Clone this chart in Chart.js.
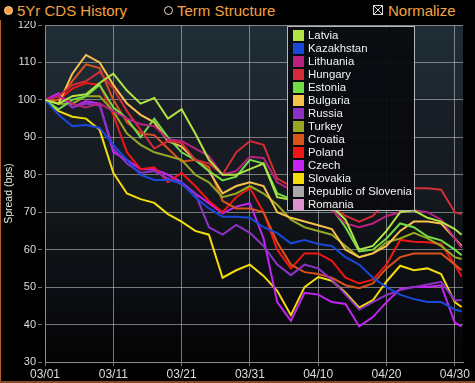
<!DOCTYPE html>
<html>
<head>
<meta charset="utf-8">
<script src="https://cdn.jsdelivr.net/npm/chart.js@4.4.1/dist/chart.umd.min.js"></script>
<style>
  html, body { margin: 0; padding: 0; background: #000; }
  body { width: 475px; height: 383px; position: relative; overflow: hidden; font-family: "Liberation Sans", Arial, sans-serif; }
  #wrap { position: absolute; left: 0; top: 0; width: 475px; height: 383px; }
  #header { position: absolute; left: 0; top: 0; width: 475px; height: 21px; background: #000; color: #f4a044; font-size: 15px; }
  #header span { position: absolute; top: 2px; white-space: nowrap; }
  .radio { position: absolute; width: 7px; height: 7px; border-radius: 50%; top: 6px; }
  #legend { position: absolute; left: 287px; top: 26px; width: 128px; height: 185px; background: rgba(8,11,14,0.94); border: 1px solid #b8b8b8; box-sizing: border-box; }
  .item { position: absolute; left: 5px; height: 13px; color: #f2f2f2; font-size: 11.4px; line-height: 13px; white-space: nowrap; }
  .item i { position: absolute; left: 0; top: 1px; width: 11px; height: 11px; }
  .item b { position: absolute; left: 15px; top: 0; font-weight: normal; }
  #edgeL { position: absolute; left: 0; top: 20px; width: 1px; height: 363px; background: #b0602a; }
  #edgeB { position: absolute; left: 0; top: 381px; width: 475px; height: 2px; background: #8a4a22; }
</style>
</head>
<body>
<div id="wrap"><canvas id="cds" width="475" height="383"></canvas></div>
<div id="header">
  <div class="radio" style="left:4px;background:#f4a044;border:1px solid #ffd090;"></div>
  <span style="left:17px;">5Yr CDS History</span>
  <div class="radio" style="left:164px;border:1px solid #f0e0c0;"></div>
  <span style="left:177px;">Term Structure</span>
  <div style="position:absolute;left:373px;top:5px;width:10px;height:10px;border:1px solid #d8d8d8;box-sizing:border-box;overflow:hidden;">
    <svg width="10" height="10" style="position:absolute;left:-1px;top:-1px"><path d="M1 1L9 9M9 1L1 9" stroke="#d8d8d8" stroke-width="1"/></svg>
  </div>
  <span style="left:388px;">Normalize</span>
</div>
<div id="legend"></div>
<div id="edgeL"></div>
<div id="edgeB"></div>
<script>
const days = [0, 2, 4, 6, 8, 10, 12, 14, 16, 18, 20, 22, 24, 26, 28, 30, 32, 34, 36, 38, 40, 42, 44, 46, 48, 50, 52, 54, 56, 58, 60, 61];
const tickLabels = ['03/01', '03/11', '03/21', '03/31', '04/10', '04/20', '04/30'];

const countries = ['Latvia', 'Kazakhstan', 'Lithuania', 'Hungary', 'Estonia', 'Bulgaria', 'Russia', 'Turkey',
  'Croatia', 'Poland', 'Czech', 'Slovakia', 'Republic of Slovenia', 'Romania'];
const colors = ['#b0e444', '#1a48d8', '#b8227e', '#d42c38', '#74dc46', '#f6c24c', '#8c32c4', '#98a622',
  '#d8521a', '#f01616', '#c424f4', '#f4dc0c', '#a8a8a8', '#dc92cc'];

const latvia     = [100, 99, 101, 101.5, 104.5, 107, 102.5, 99, 100.5, 95, 97.5, 91, 84, 80, 80, 81.5, 83, 74, 73.3, 72.5, 72, 71.5, 68, 60, 61, 65, 70, 70.5, 68.5, 67.5, 65.5, 64];
const kazakhstan = [100, 96, 93, 93.3, 92.5, 88, 84, 80, 78.6, 78.6, 77.8, 74, 71, 68.8, 68.8, 68.5, 66, 64.4, 61.7, 62.6, 61.5, 61, 58, 56, 52.5, 50, 48, 46.8, 46, 46, 44, 43.5];
const lithuania  = [100, 101, 99, 98, 99, 97, 95, 93.5, 93, 89.5, 89, 87, 85, 80, 81, 84.8, 84.5, 78, 76, 74, 72, 70.5, 67, 66, 67, 69, 70, 70.5, 70, 68, 63, 60.5];
const hungary    = [100, 101, 104, 105, 107.5, 103, 97, 92, 87, 89, 88.5, 84, 83, 80, 86, 89, 88, 79, 77, 75, 72.5, 71.5, 69, 67.5, 69, 73, 76, 76.4, 76.4, 76, 70, 69.5];
const estonia    = [100, 97.5, 100, 101, 104, 98, 95, 90, 95, 90, 86, 84, 81, 78.5, 79.5, 84, 83, 75, 73.5, 72.5, 71.5, 71, 66, 59.5, 60, 63, 67, 66, 63.5, 62.5, 60, 58.5];
const bulgaria   = [100, 99, 107, 112, 110, 104, 99, 96, 94, 89, 87.5, 84, 81, 75, 77, 78, 77, 70, 68.5, 67.5, 66.5, 65.5, 60, 58, 59, 61, 65, 67.5, 67.5, 67, 63, 61];
const russia     = [100, 101, 98, 99, 98.5, 87, 83, 80.5, 81, 79, 77.5, 75, 66, 64, 66.6, 64.5, 61, 56, 53.2, 56, 55, 52, 48, 44, 46, 47.9, 49.2, 50, 50.7, 51.4, 46.5, 46.5];
const turkey     = [100, 99, 99, 101, 101, 97, 91, 88, 86, 85, 84, 80, 78, 74, 75, 77, 75, 72, 68, 66, 65, 64, 61, 58, 59, 62, 63, 64.5, 63, 61, 58, 57.5];
const croatia    = [100, 100, 105, 109.5, 108.5, 100, 94, 91, 90.6, 87, 83.5, 84, 82, 73, 71, 71, 70, 62, 56, 54, 53.5, 52.5, 50.5, 49.7, 51, 55, 58, 59, 59, 59, 56, 54.5];
const poland     = [100, 100, 103, 104.5, 104, 96, 86, 81.5, 82, 78, 80.5, 77, 73, 70, 74, 76.5, 70, 60, 55, 59, 59, 57, 52.5, 51, 52, 56, 62.6, 62.1, 62, 61.5, 56, 52.8];
const czech      = [100, 101.8, 98, 99.6, 99, 86, 84, 81.5, 81.5, 80, 78, 75, 72.4, 69.7, 71.5, 72.4, 63, 46, 41, 48.5, 48, 46, 45.5, 39.5, 42, 46, 49.5, 50, 50, 50.5, 40.5, 39.5];
const slovakia   = [100, 97, 95.5, 95, 92, 80.5, 75, 73.5, 72.5, 69.5, 67.5, 65, 64, 52.5, 54.5, 56, 53, 49, 42.5, 50, 52.7, 51.7, 48.5, 44.5, 46.5, 51.5, 55.7, 54.5, 55, 53.5, 46, 44.7];
const slovenia   = [];
const romania    = [];

const series = [latvia, kazakhstan, lithuania, hungary, estonia, bulgaria, russia, turkey,
  croatia, poland, czech, slovakia, slovenia, romania];

const datasets = countries.map((name, i) => ({
  label: name,
  data: series[i].map((v, j) => ({ x: days[j], y: v })),
  borderColor: colors[i],
  backgroundColor: colors[i],
  borderWidth: 2,
  pointRadius: 0,
  tension: 0
}));

// dark slate gradient behind the plot
const plotBg = {
  id: 'plotBg',
  beforeDraw(chart) {
    const { ctx, chartArea: a } = chart;
    const g = ctx.createLinearGradient(0, a.top, 0, a.bottom);
    g.addColorStop(0, '#202d36');
    g.addColorStop(0.21, '#1d2830');
    g.addColorStop(0.23, '#191e27');
    g.addColorStop(0.5, '#141a1f');
    g.addColorStop(0.62, '#0f1316');
    g.addColorStop(0.8, '#0b0d12');
    g.addColorStop(0.94, '#060608');
    g.addColorStop(1, '#040405');
    ctx.save();
    ctx.fillStyle = g;
    ctx.fillRect(a.left, a.top, a.right - a.left, a.bottom - a.top);
    ctx.restore();
  }
};

const gridCol = 'rgba(190,190,190,0.6)';

new Chart(document.getElementById('cds').getContext('2d'), {
  type: 'line',
  data: { datasets },
  plugins: [plotBg],
  options: {
    responsive: false,
    animation: false,
    layout: { padding: { top: 25, right: 12, left: 0, bottom: 0 } },
    plugins: { legend: { display: false }, tooltip: { enabled: false } },
    scales: {
      x: {
        type: 'linear',
        min: 0,
        max: 61.2,
        afterBuildTicks: s => { s.ticks = tickLabels.map((_, i) => ({ value: i * 10 })); },
        afterFit: s => { s.height = 21; },
        ticks: {
          autoSkip: false,
          maxRotation: 0,
          padding: 1,
          color: '#dcdcdc',
          font: { family: 'Liberation Sans', size: 12 },
          callback: v => tickLabels[Math.round(v / 10)]
        },
        grid: { color: gridCol, borderDash: [4, 3], tickBorderDash: [4, 3], tickLength: 4, tickColor: gridCol },
        border: { color: '#8c8c8c', width: 1 }
      },
      y: {
        min: 30,
        max: 120,
        afterFit: s => { s.width = 45; },
        ticks: {
          stepSize: 10,
          padding: 2,
          color: '#dcdcdc',
          font: { family: 'Liberation Sans', size: 11 }
        },
        title: {
          display: true,
          text: 'Spread (bps)',
          color: '#e6e6e6',
          font: { family: 'Liberation Sans', size: 10.5 },
          padding: { top: 3, bottom: 0 }
        },
        grid: { color: gridCol, borderDash: [4, 3], tickBorderDash: [4, 3], tickLength: 7, tickColor: gridCol },
        border: { color: '#8c8c8c', width: 1 }
      }
    }
  }
});

// legend box built from the same names and colours
const leg = document.getElementById('legend');
countries.forEach((name, i) => {
  const d = document.createElement('div');
  d.className = 'item';
  d.style.top = (2 + i * 13) + 'px';
  d.innerHTML = '<i style="background:' + colors[i] + '"></i><b>' + name + '</b>';
  leg.appendChild(d);
});
</script>
</body>
</html>
